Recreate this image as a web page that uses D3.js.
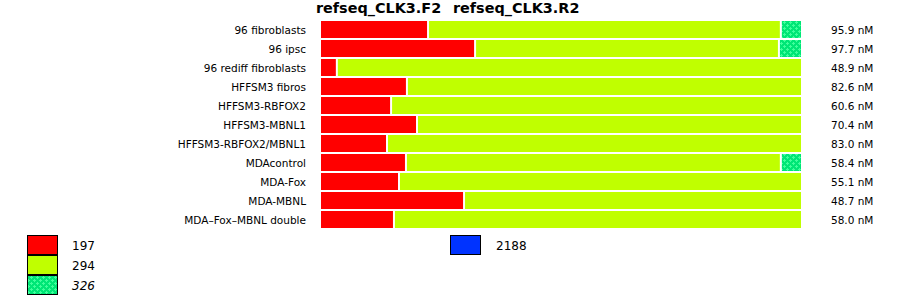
<!DOCTYPE html>
<html>
<head>
<meta charset="utf-8">
<script src="https://cdn.jsdelivr.net/npm/d3@7"></script>
<style>
  body { margin: 0; background: #fff; }
  svg text { font-family: "DejaVu Sans", sans-serif; fill: #000; }
</style>
</head>
<body>
<div id="chart"></div>
<script>
/* global d3 */
let titles = ["refseq_CLK3.F2", "refseq_CLK3.R2"];
let samples = ["96 fibroblasts", "96 ipsc", "96 rediff fibroblasts", "HFFSM3 fibros",
  "HFFSM3-RBFOX2", "HFFSM3-MBNL1", "HFFSM3-RBFOX2/MBNL1", "MDAcontrol",
  "MDA-Fox", "MDA-MBNL", "MDA\u2013Fox\u2013MBNL double"];
// share of each product (percent)
let p197 = [22.3, 32.1, 3.3, 17.9, 14.6, 20.0, 13.75, 17.7, 16.25, 29.8, 15.2];
let p326 = [4.2, 4.6, 0, 0, 0, 0, 0, 4.2, 0, 0, 0];
let p294 = p197.map((v, i) => 100 - v - p326[i]);
let conc = ["95.9 nM", "97.7 nM", "48.9 nM", "82.6 nM", "60.6 nM", "70.4 nM",
  "83.0 nM", "58.4 nM", "55.1 nM", "48.7 nM", "58.0 nM"];
let legendLeft = ["197", "294", "326"];
let legendRight = ["2188"];

let buildChart = () => {
  let svg = d3.select("#chart").append("svg")
    .attr("width", 900)
    .attr("height", 299);

  let defs = svg.append("defs");
  let pat = defs.append("pattern")
    .attr("id", "dots")
    .attr("patternUnits", "userSpaceOnUse")
    .attr("width", 6)
    .attr("height", 6);
  pat.append("rect").attr("width", 6).attr("height", 6).attr("fill", "#00e676");
  [[1.5, 1.5], [4.5, 4.5]].forEach(([cx, cy]) => {
    pat.append("rect").attr("x", cx - 1.5).attr("y", cy - 0.5).attr("width", 3).attr("height", 1).attr("fill", "#40ff9c");
    pat.append("rect").attr("x", cx - 0.5).attr("y", cy - 1.5).attr("width", 1).attr("height", 3).attr("fill", "#40ff9c");
  });

  let colors = ["#ff0000", "#c0ff00", "url(#dots)"];

  let x = d3.scaleLinear().domain([0, 100]).range([321, 801]);
  let y = d3.scaleBand().domain(samples).range([20, 229])
    .paddingInner(2 / 19).paddingOuter(1 / 19);

  // titles
  svg.append("text").attr("x", 316).attr("y", 13)
    .style("font-weight", "bold").style("font-size", "14.4px").text(titles[0]);
  svg.append("text").attr("x", 453).attr("y", 13)
    .style("font-weight", "bold").style("font-size", "14.4px").text(titles[1]);

  let rows = samples.map((s, i) => {
    let vals = [p197[i], p294[i], p326[i]];
    let segs = [];
    let cum = 0;
    vals.forEach((v, k) => {
      if (v > 0) segs.push({ start: cum, end: cum + v, color: colors[k] });
      cum += v;
    });
    return { name: s, segs: segs, conc: conc[i] };
  });

  let g = svg.selectAll(".row").data(rows).enter().append("g").attr("class", "row");

  g.selectAll("rect")
    .data(d => d.segs.map((s, k) => Object.assign({ name: d.name, first: k === 0, last: k === d.segs.length - 1 }, s)))
    .enter().append("rect")
    .attr("x", d => x(d.start) + (d.first ? 0 : 1))
    .attr("width", d => x(d.end) - x(d.start) - (d.first ? 0 : 1) - (d.last ? 0 : 1))
    .attr("y", d => y(d.name))
    .attr("height", y.bandwidth())
    .attr("fill", d => d.color);

  g.append("text")
    .attr("x", 306)
    .attr("y", d => y(d.name) + y.bandwidth() / 2 + 0.5)
    .attr("dy", "0.35em")
    .attr("text-anchor", "end")
    .style("font-size", "10.5px")
    .text(d => d.name);

  g.append("text")
    .attr("x", 831)
    .attr("y", d => y(d.name) + y.bandwidth() / 2 + 0.5)
    .attr("dy", "0.35em")
    .style("font-size", "10.5px")
    .text(d => d.conc);

  // legend
  let legY = d3.scaleBand().domain(legendLeft).range([235, 295]);
  let leg = svg.selectAll(".leg").data(legendLeft).enter().append("g").attr("class", "leg");
  leg.append("rect")
    .attr("x", 27.5)
    .attr("y", d => legY(d) + 0.5)
    .attr("width", 30)
    .attr("height", legY.bandwidth() - 1)
    .attr("fill", (d, i) => colors[i])
    .attr("stroke", "#000")
    .attr("stroke-width", 1);
  leg.append("text")
    .attr("x", 72)
    .attr("y", d => legY(d) + legY.bandwidth() / 2 + 1)
    .attr("dy", "0.35em")
    .style("font-size", "12px")
    .style("font-style", (d, i) => i === 2 ? "italic" : "normal")
    .text(d => d);

  let leg2 = svg.selectAll(".leg2").data(legendRight).enter().append("g").attr("class", "leg2");
  leg2.append("rect")
    .attr("x", 450.5).attr("y", d => legY(legendLeft[0]) + 0.5)
    .attr("width", 30).attr("height", legY.bandwidth() - 1)
    .attr("fill", "#0033ff").attr("stroke", "#000");
  leg2.append("text")
    .attr("x", 496)
    .attr("y", legY(legendLeft[0]) + legY.bandwidth() / 2 + 1)
    .attr("dy", "0.35em")
    .style("font-size", "12px")
    .text(d => d);
};
buildChart();
</script>
</body>
</html>
